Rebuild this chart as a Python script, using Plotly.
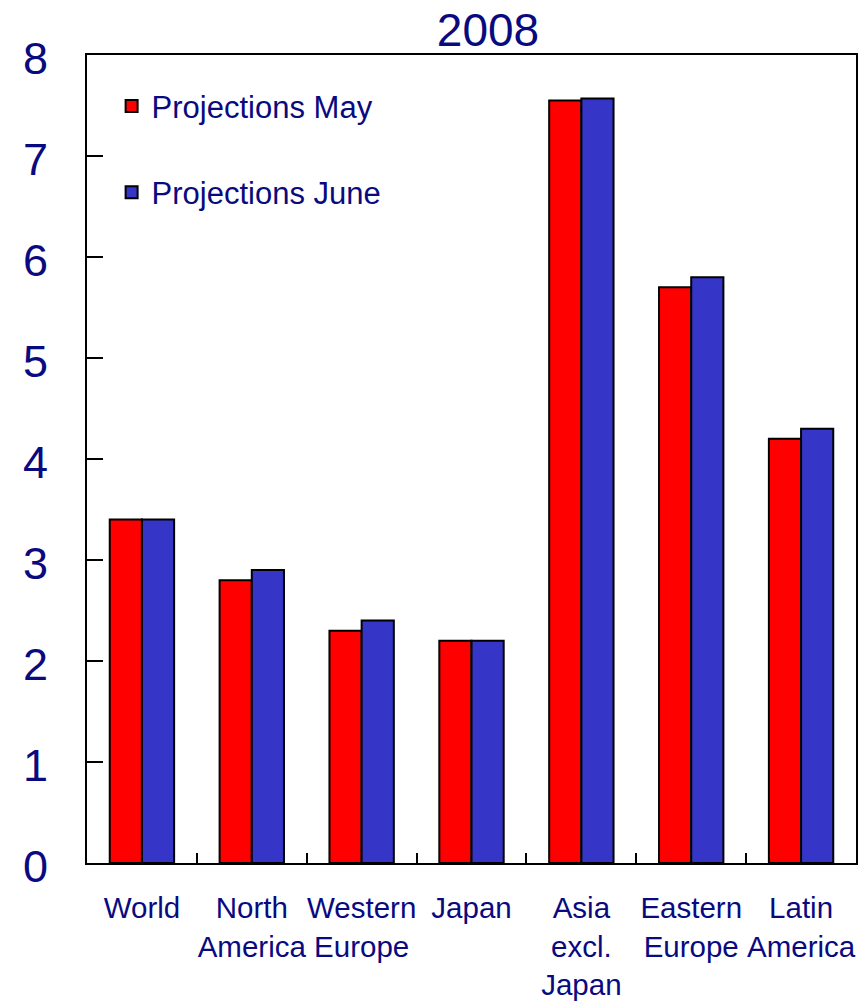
import plotly.graph_objects as go

categories = ["World", "North<br>America", "Western<br>Europe", "Japan",
              "Asia<br>excl.<br>Japan", "Eastern<br>Europe", "Latin<br>America"]
may_values = [3.4, 2.8, 2.3, 2.2, 7.55, 5.7, 4.2]
june_values = [3.4, 2.9, 2.4, 2.2, 7.57, 5.8, 4.3]
series_names = ["Projections May", "Projections June"]
y_ticks = [0, 1, 2, 3, 4, 5, 6, 7, 8]

NAVY = "#0a0a80"
FONT = "Liberation Sans, Arial, sans-serif"

fig = go.Figure()
fig.add_trace(go.Bar(x=categories, y=may_values, name=series_names[0],
                     marker=dict(color="#ff0000", line=dict(color="black", width=2)),
                     legendgroup="a"))
fig.add_trace(go.Bar(x=categories, y=june_values, name=series_names[1],
                     marker=dict(color="#3535c8", line=dict(color="black", width=2)),
                     legendgroup="b"))

fig.update_layout(
    width=863, height=1003,
    margin=dict(l=87, r=7, t=55, b=140),
    paper_bgcolor="white", plot_bgcolor="white",
    barmode="group", bargap=0.414, bargroupgap=0,
    font=dict(family=FONT, color=NAVY),
    title=dict(text="2008", x=488/863, xanchor="center", xref="container",
               y=1 - 30/1003, yanchor="middle", yref="container",
               font=dict(size=46, color=NAVY, family=FONT)),
    legend=dict(x=0.032, y=0.97, xanchor="left", yanchor="top",
                bgcolor="rgba(0,0,0,0)", font=dict(size=31, color=NAVY, family=FONT),
                tracegroupgap=43, itemsizing="constant"),
    xaxis=dict(showline=True, linecolor="black", linewidth=2, mirror=True,
               ticks="inside", tickson="boundaries", ticklen=10, tickwidth=1.5,
               tickcolor="black", showgrid=False, tickangle=0, automargin=False,
               tickfont=dict(size=29.5, color=NAVY, family=FONT),
               ticklabelstandoff=18),
    yaxis=dict(range=[0, 8], tickvals=y_ticks, showline=True, linecolor="black",
               linewidth=2, mirror=True, ticks="inside", ticklen=16, tickwidth=1.5,
               tickcolor="black", showgrid=False, zeroline=False, automargin=False,
               tickfont=dict(size=45, color=NAVY, family=FONT),
               ticklabelstandoff=28, ticklabelshift=3),
)

fig.write_html("out.html")
